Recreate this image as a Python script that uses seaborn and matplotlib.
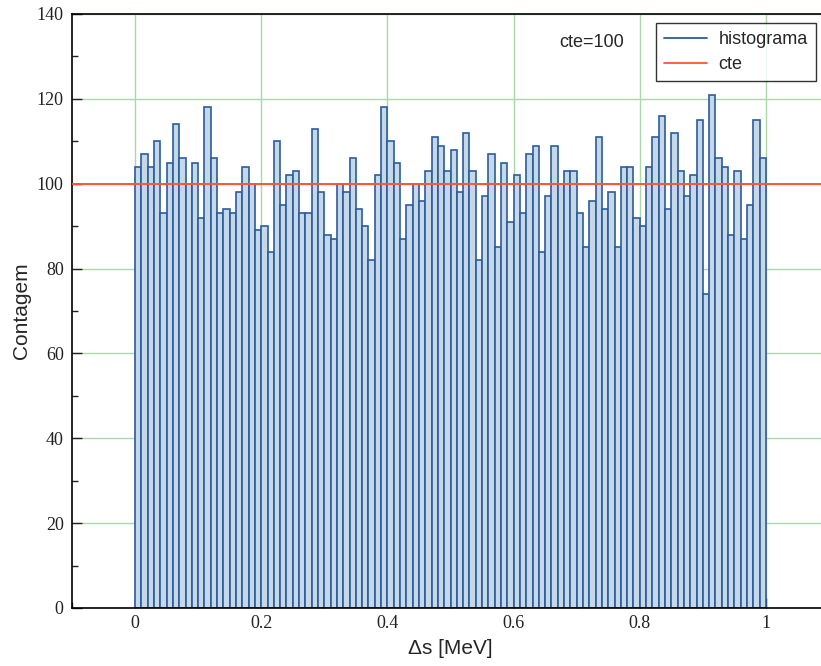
import numpy as np
import pandas as pd
import matplotlib
matplotlib.use("Agg")
import matplotlib.pyplot as plt
from matplotlib.lines import Line2D
from matplotlib.ticker import MultipleLocator
import seaborn as sns

# counts per bin (100 bins from 0 to 1 MeV)
counts = [104, 107, 104, 110, 93, 105, 114, 106, 100, 105,
          92, 118, 106, 93, 94, 93, 98, 104, 100, 89,
          90, 84, 110, 95, 102, 103, 93, 93, 113, 98,
          88, 87, 100, 98, 106, 94, 90, 82, 102, 118,
          110, 105, 87, 95, 100, 96, 103, 111, 109, 103,
          108, 98, 112, 103, 82, 97, 107, 85, 105, 91,
          102, 93, 107, 109, 84, 97, 109, 100, 103, 103,
          93, 85, 96, 111, 94, 98, 85, 104, 104, 92,
          90, 104, 111, 116, 94, 112, 103, 97, 102, 115,
          74, 121, 106, 104, 88, 103, 87, 95, 115, 106]
bin_width = 0.01
bin_centers = (np.arange(len(counts)) + 0.5) * bin_width
cte = 100

x_ticks = [0, 0.2, 0.4, 0.6, 0.8, 1]
x_tick_labels = ["0", "0.2", "0.4", "0.6", "0.8", "1"]
y_ticks = [0, 20, 40, 60, 80, 100, 120, 140]

df = pd.DataFrame({"ds": bin_centers, "n": counts})

sns.set_theme(style="white")
sans = ["Liberation Sans", "DejaVu Sans"]
serif = ["Liberation Serif", "DejaVu Serif"]
plt.rcParams["font.family"] = sans

fig = plt.figure(figsize=(8.21, 6.66), dpi=100)
# the original is cropped on the right, so the axes run past the figure edge
ax = fig.add_axes([72 / 821, 58 / 666, 757 / 821, 594 / 666])

blue = "#2b5d9c"
red = "#ff5533"
sns.histplot(data=df, x="ds", weights="n", binwidth=bin_width, binrange=(0, 1),
             ax=ax, color="#c6d7e8", edgecolor=blue, linewidth=1.2, alpha=1,
             zorder=2)
ax.axhline(cte, color=red, lw=1.4, zorder=3)

ax.set_xlim(-0.1, 1.1)
ax.set_ylim(0, 140)
ax.set_xticks(x_ticks)
ax.set_xticklabels(x_tick_labels)
ax.set_yticks(y_ticks)
ax.xaxis.set_minor_locator(MultipleLocator(0.1))
ax.yaxis.set_minor_locator(MultipleLocator(10))
ax.tick_params(which="both", direction="in", colors="#222222",
               labelsize=13, bottom=True, left=True)
ax.tick_params(which="major", length=7, width=1)
ax.tick_params(which="minor", length=4, width=1)
for lab in ax.get_xticklabels() + ax.get_yticklabels():
    lab.set_family(serif)
ax.tick_params(axis="x", pad=5)
ax.tick_params(axis="y", pad=6)

ax.grid(True, which="major", color="#a9d8a9", lw=1, zorder=0)
ax.set_axisbelow(True)
for side in ["left", "bottom", "top"]:
    ax.spines[side].set_color("black")
    ax.spines[side].set_linewidth(1.2)

ax.set_xlabel("Δs [MeV]", fontsize=15)
ax.set_ylabel("Contagem", fontsize=15, labelpad=4)
ax.xaxis.set_label_coords((450 - 72) / 757, -0.052)

ax.text(0.723, 133.4, "cte=100", fontsize=13, ha="center", va="center")

handles = [Line2D([0], [0], color=blue, lw=1.3),
           Line2D([0], [0], color=red, lw=1.3)]
leg = ax.legend(handles, ["histograma", "cte"], loc="upper left",
                bbox_to_anchor=(584 / 757, 1 - 9 / 594), borderaxespad=0,
                frameon=True, fancybox=False, borderpad=0.45,
                labelspacing=0.45, handlelength=2.4, handletextpad=0.6,
                prop={"family": sans, "size": 13})
leg.get_frame().set_edgecolor("black")
leg.get_frame().set_linewidth(1)

fig.savefig("out.png", dpi=100)
